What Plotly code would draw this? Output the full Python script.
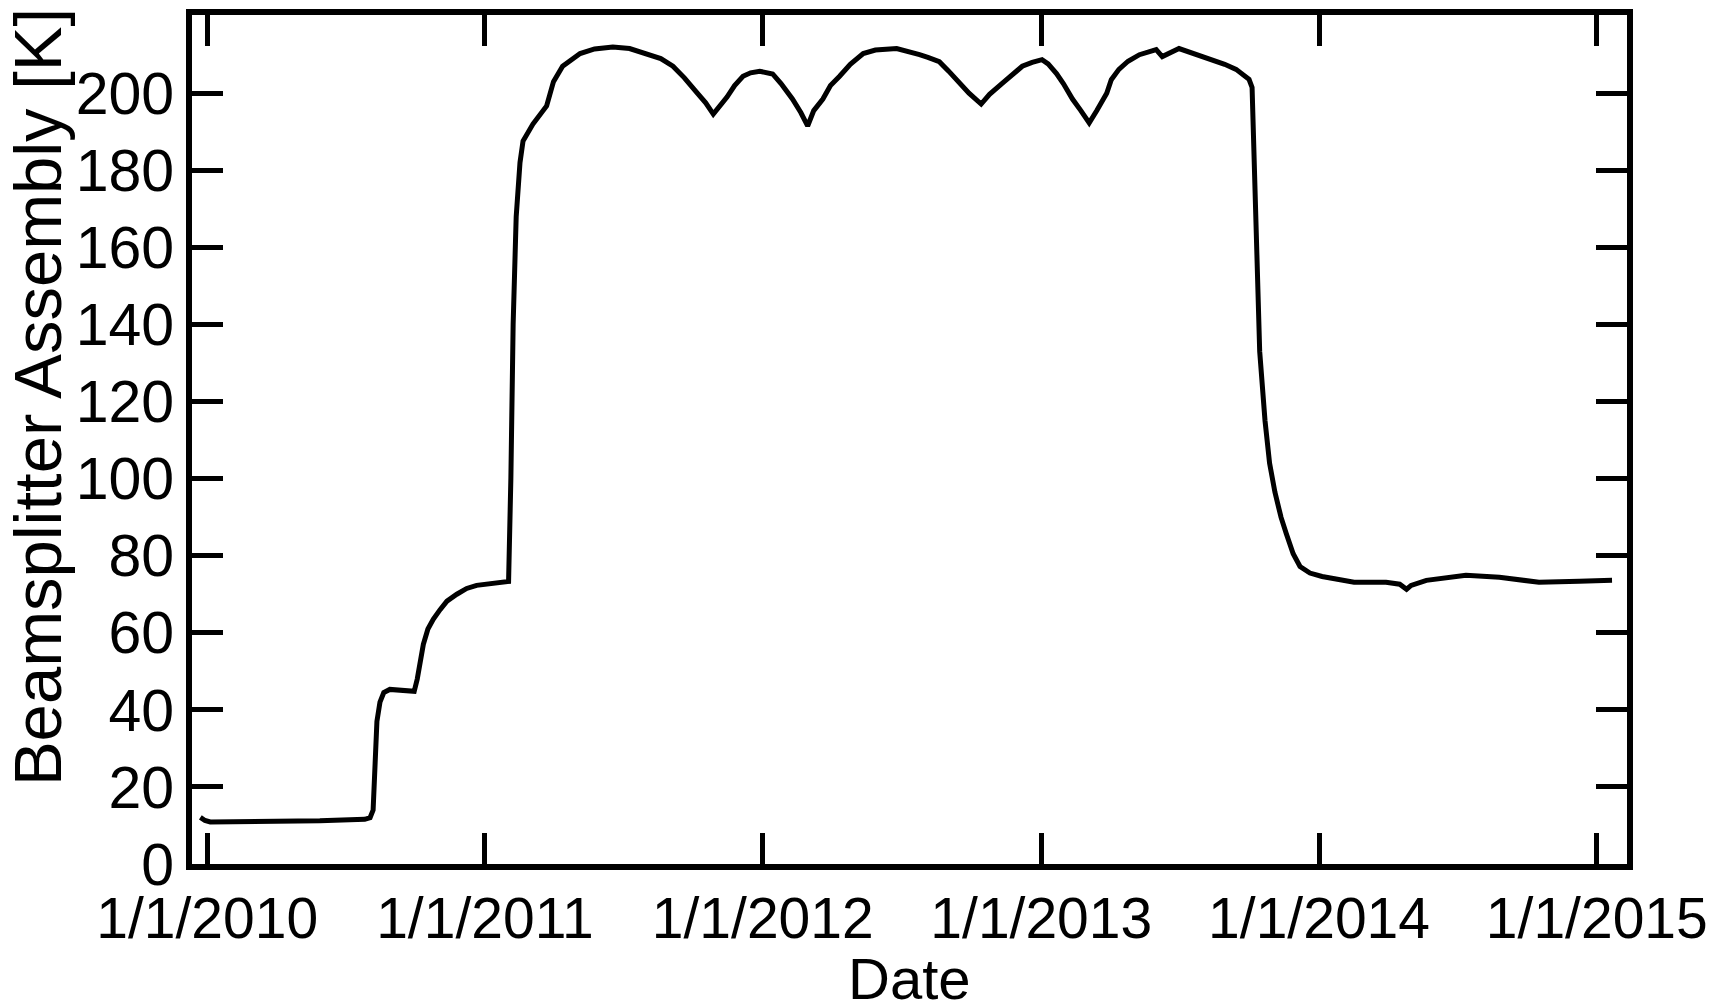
import plotly.graph_objects as go

# Beamsplitter assembly temperature history
dates = [
    "2009-12-23", "2009-12-29", "2010-01-05", "2010-03-11", "2010-05-29",
    "2010-07-27", "2010-08-03", "2010-08-07", "2010-08-09", "2010-08-12",
    "2010-08-16", "2010-08-21", "2010-08-29", "2010-09-18", "2010-09-30",
    "2010-10-04", "2010-10-08", "2010-10-12", "2010-10-18", "2010-10-25",
    "2010-11-03", "2010-11-12", "2010-11-25", "2010-12-08", "2010-12-21",
    "2011-01-05", "2011-01-21", "2011-02-01", "2011-02-04", "2011-02-07",
    "2011-02-11", "2011-02-16", "2011-02-20", "2011-03-05", "2011-03-23",
    "2011-04-01", "2011-04-13", "2011-05-06", "2011-05-25", "2011-06-18",
    "2011-07-10", "2011-08-02", "2011-08-20", "2011-09-05", "2011-09-20",
    "2011-10-07", "2011-10-18", "2011-10-28", "2011-11-05", "2011-11-15",
    "2011-11-25", "2011-12-06", "2011-12-16", "2011-12-28", "2012-01-14",
    "2012-01-25", "2012-02-09", "2012-02-20", "2012-02-29", "2012-03-08",
    "2012-03-20", "2012-03-30", "2012-04-11", "2012-04-25", "2012-05-12",
    "2012-05-28", "2012-06-25", "2012-07-08", "2012-07-25", "2012-08-05",
    "2012-08-20", "2012-09-01", "2012-09-15", "2012-09-28", "2012-10-14",
    "2012-10-25", "2012-11-11", "2012-11-25", "2012-12-07", "2012-12-20",
    "2013-01-02", "2013-01-10", "2013-01-21", "2013-01-30", "2013-02-11",
    "2013-02-22", "2013-03-05", "2013-03-15", "2013-03-28", "2013-04-03",
    "2013-04-13", "2013-04-25", "2013-05-10", "2013-06-01", "2013-06-09",
    "2013-07-01", "2013-07-20", "2013-08-14", "2013-08-30", "2013-09-14",
    "2013-10-01", "2013-10-05", "2013-10-08", "2013-10-11", "2013-10-15",
    "2013-10-22", "2013-10-28", "2013-11-04", "2013-11-12", "2013-11-19",
    "2013-11-28", "2013-12-07", "2013-12-20", "2014-01-05", "2014-02-16",
    "2014-03-30", "2014-04-17", "2014-04-26", "2014-05-02", "2014-05-22",
    "2014-07-13", "2014-08-26", "2014-10-17", "2014-12-09", "2015-01-21",
]
temps_k = [
    12.1, 11.3, 10.9, 11.0, 11.2,
    11.6, 12.0, 14.0, 25.0, 37.0,
    42.0, 44.5, 45.3, 45.0, 44.8,
    48.0, 52.5, 57.0, 61.0, 63.5,
    66.0, 68.2, 70.0, 71.5, 72.3,
    72.7, 73.0, 73.3, 100.0, 140.0,
    168.0, 182.0, 187.6, 192.0, 196.7,
    203.0, 207.0, 210.3, 211.5, 212.0,
    211.6, 210.3, 209.0, 207.0, 204.0,
    200.0, 197.5, 194.6, 196.5, 199.0,
    202.0, 204.4, 205.3, 205.7, 205.0,
    202.5, 198.5, 195.0, 191.5, 195.5,
    198.5, 202.0, 204.4, 207.5, 210.3,
    211.2, 211.6, 211.0, 210.0, 209.3,
    208.2, 205.8, 202.6, 200.0, 197.2,
    199.7, 202.6, 205.0, 207.0, 208.0,
    208.7, 207.6, 205.1, 202.5, 198.5,
    195.5, 192.3, 195.5, 200.0, 203.5,
    206.2, 208.3, 210.0, 211.3, 209.5,
    211.6, 210.4, 208.7, 207.5, 206.2,
    203.6, 201.5, 179.0, 152.0, 133.0,
    115.0, 104.0, 96.5, 90.0, 85.7,
    80.5, 77.2, 75.5, 74.6, 73.1,
    73.1, 72.6, 71.3, 72.3, 73.6,
    74.9, 74.4, 73.1, 73.4, 73.6,
]

year_ticks = ["2010-01-01", "2011-01-01", "2012-01-01",
              "2013-01-01", "2014-01-01", "2015-01-01"]
year_labels = ["1/1/2010", "1/1/2011", "1/1/2012",
               "1/1/2013", "1/1/2014", "1/1/2015"]
y_ticks = [0, 20, 40, 60, 80, 100, 120, 140, 160, 180, 200]

FONT = "Liberation Sans, Arial, Helvetica, sans-serif"

fig = go.Figure(
    go.Scatter(
        x=dates, y=temps_k, mode="lines",
        line=dict(color="black", width=5),
        showlegend=False,
    )
)

axis_common = dict(
    showline=True, linecolor="black", linewidth=6, mirror="ticks",
    ticks="inside", ticklen=31, tickwidth=5, tickcolor="black",
    showgrid=False, zeroline=False,
)

fig.update_xaxes(
    type="date",
    range=["2009-12-12", "2015-02-09 16:00"],
    tickvals=year_ticks, ticktext=year_labels,
    tickfont=dict(family=FONT, size=57, color="black"),
    **axis_common,
)
fig.update_yaxes(
    range=[0, 220.3],
    tickvals=y_ticks,
    tickfont=dict(family=FONT, size=59, color="black"),
    **axis_common,
)

fig.add_annotation(
    text="Date", xref="paper", yref="paper", x=0.5, y=-0.135,
    xanchor="center", yanchor="middle", showarrow=False,
    font=dict(family=FONT, size=58, color="black"),
)
fig.add_annotation(
    text="Beamsplitter Assembly [K]", xref="paper", yref="paper",
    x=-0.108, y=0.55, xanchor="center", yanchor="middle",
    textangle=-90, showarrow=False,
    font=dict(family=FONT, size=67, color="black"),
)

fig.update_layout(
    width=1731, height=1007,
    margin=dict(l=192, r=104, t=9, b=143, pad=0),
    paper_bgcolor="white", plot_bgcolor="white",
)

fig.write_html("out.html")
